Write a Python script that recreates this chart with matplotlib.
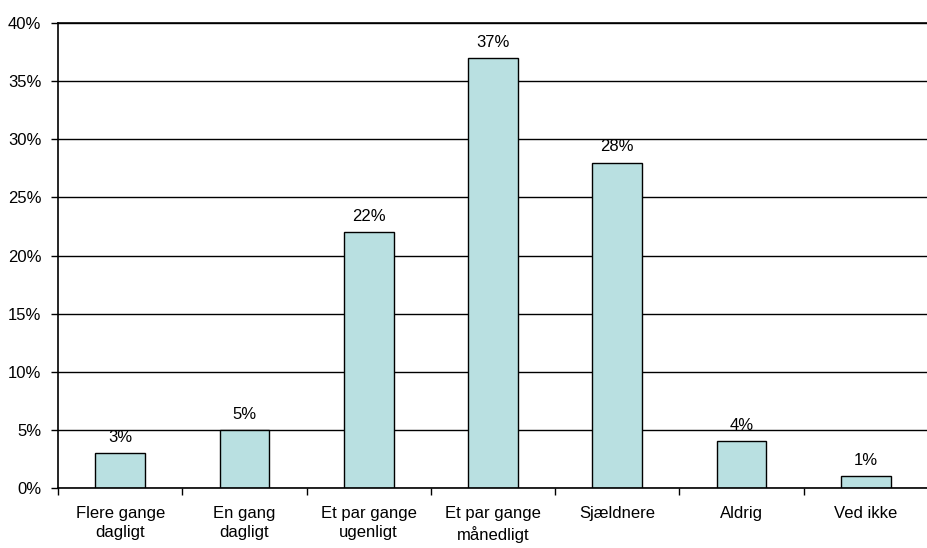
import matplotlib
matplotlib.use("Agg")
import matplotlib.pyplot as plt
import numpy as np
from matplotlib.ticker import PercentFormatter

categories = ["Flere gange\ndagligt", "En gang\ndagligt", "Et par gange\nugenligt",
              "Et par gange\nmånedligt", "Sjældnere", "Aldrig", "Ved ikke"]
values = [3, 5, 22, 37, 28, 4, 1]
y_ticks = [0, 5, 10, 15, 20, 25, 30, 35, 40]

plt.rcParams['font.family'] = ['Liberation Sans', 'DejaVu Sans']
plt.rcParams['font.size'] = 12

fig = plt.figure(figsize=(9.28, 5.48), dpi=100)
ax = fig.add_axes([0.0625, 0.1095, 0.9375, 0.8485])

x = np.arange(len(categories))
ax.set_axisbelow(True)
bars = ax.bar(x, values, width=0.4, color="#b9e0e1", edgecolor="black", linewidth=1)

for b, v in zip(bars, values):
    ax.annotate(f"{v}%", (b.get_x() + b.get_width() / 2, v), xytext=(0, 6),
                textcoords="offset points", ha="center", va="bottom", fontsize=12)

ax.set_xlim(-0.5, len(categories) - 0.5)
ax.set_ylim(0, 40)
ax.set_yticks(y_ticks)
ax.yaxis.set_major_formatter(PercentFormatter(decimals=0))
ax.yaxis.grid(True, color="black", linewidth=1)

# boundary ticks as major, labels on minor ticks at bar centres
ax.set_xticks(np.arange(-0.5, len(categories), 1.0))
ax.set_xticklabels([])
ax.set_xticks(x, minor=True)
ax.set_xticklabels(categories, minor=True, linespacing=1.35)
ax.tick_params(axis="x", which="major", length=5, width=1, direction="out")
ax.tick_params(axis="x", which="minor", length=0, pad=13)
ax.tick_params(axis="y", length=5, width=1, pad=7)

ax.spines["right"].set_visible(False)
ax.spines["top"].set_linewidth(1.2)
ax.spines["left"].set_linewidth(1.2)
ax.spines["bottom"].set_linewidth(1.2)

fig.savefig("out.png", dpi=100)
